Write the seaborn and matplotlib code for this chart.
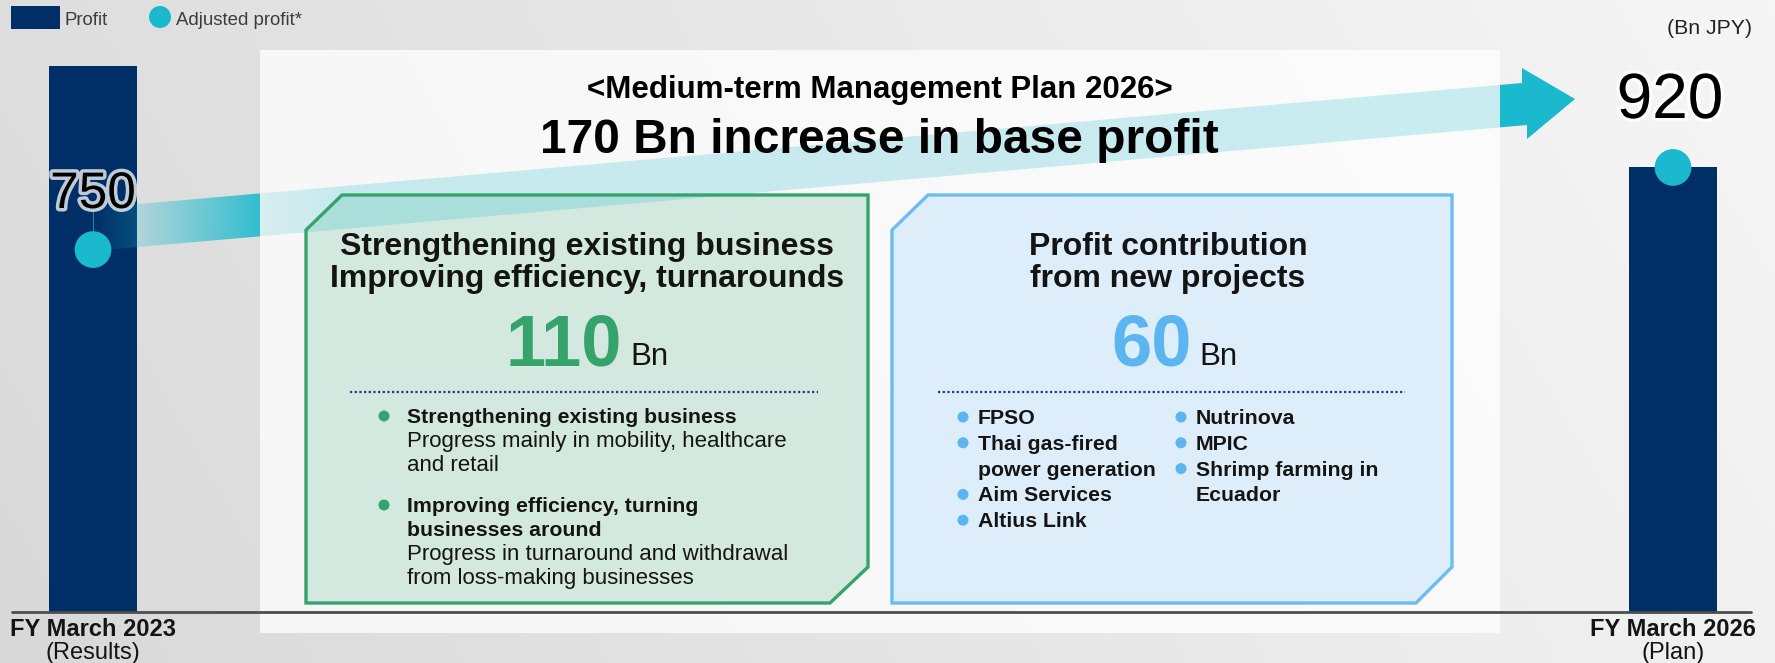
import numpy as np
import pandas as pd
import matplotlib
matplotlib.use("Agg")
import matplotlib.pyplot as plt
import matplotlib.transforms as mtransforms
import matplotlib.patheffects as pe
from matplotlib.patches import Polygon, Rectangle, Circle
import seaborn as sns

# ---------------- data ----------------
periods = ["FY March 2023", "FY March 2026"]
period_notes = ["(Results)", "(Plan)"]
profit = [1131, 920]            # Bn JPY (bars)
adjusted_profit = [750, 920]    # Bn JPY (circles)
value_labels = ["750", "920"]
unit_label = "(Bn JPY)"
legend_labels = ["Profit", "Adjusted profit*"]
plan_title = "<Medium-term Management Plan 2026>"
plan_headline = "170 Bn increase in base profit"
green_title = ["Strengthening existing business", "Improving efficiency, turnarounds"]
blue_title = ["Profit contribution", "from new projects"]
box_values = ["110", "60"]
box_unit = "Bn"
green_items = [
    (["Strengthening existing business"],
     ["Progress mainly in mobility, healthcare", "and retail"]),
    (["Improving efficiency, turning", "businesses around"],
     ["Progress in turnaround and withdrawal", "from loss-making businesses"]),
]
blue_left = [["FPSO"], ["Thai gas-fired", "power generation"], ["Aim Services"], ["Altius Link"]]
blue_right = [["Nutrinova"], ["MPIC"], ["Shrimp farming in", "Ecuador"]]

# ---------------- style ----------------
NAVY = "#002f67"
CYAN = "#1ab9cd"
GREEN = "#35a46c"
GREEN_FILL = "#d3e9df"
BLUE = "#6cbcf2"
BLUE_NUM = "#5bb5f1"
BLUE_FILL = "#ddeefa"
TXT = "#141414"

sns.set_style("white")
plt.rcParams["font.family"] = ["Liberation Sans", "DejaVu Sans"]

W, H = 1775, 663
fig = plt.figure(figsize=(W / 100, H / 100), dpi=100)

# background gradient
bg = fig.add_axes([0, 0, 1, 1])
bg.set_zorder(-1)
xs = np.linspace(0, 1, 256)
ys = np.linspace(0, 1, 64)[:, None]
g = 0.85 + 0.095 * xs[None, :] + 0.02 * (1 - ys)
g = np.clip(g, 0, 1)
bg.imshow(np.dstack([g, g, g]), extent=[0, 1, 0, 1], aspect="auto", interpolation="bicubic")
bg.axis("off")

ax = fig.add_axes([0, 0, 1, 1])
ax.set_facecolor("none")

# pixel -> data mapping (category 0 at x=93px, 1 at x=1673px; value 0 at y=612px)
X0, XS = 93.0, 1580.0
Y0, YS = 612.0, 0.4832
def dx(px):
    return (px - X0) / XS
def dy(py):
    return (Y0 - py) / YS

T = mtransforms.Affine2D().scale(1 / W, -1 / H).translate(0, 1) + fig.transFigure
TB = mtransforms.blended_transform_factory(ax.transData, T)

df = pd.DataFrame({"period": periods, "profit": profit, "adjusted": adjusted_profit,
                   "pos": np.arange(len(periods))})

# bars
sns.barplot(data=df, x="period", y="profit", color=NAVY, saturation=1,
            width=88 / XS, linewidth=0, ax=ax, zorder=1)

# white panel
ax.add_patch(Rectangle((260, 50), 1240, 583, transform=T, facecolor="white",
                       alpha=0.76, linewidth=0, zorder=2))

# box fills
green_pts = [(306, 230), (342, 195), (868, 195), (868, 567), (830, 603), (306, 603)]
blue_pts = [(892, 230), (928, 195), (1452, 195), (1452, 567), (1416, 603), (892, 603)]
ax.add_patch(Polygon(green_pts, closed=True, transform=T, facecolor=GREEN_FILL,
                     edgecolor="none", zorder=3))
ax.add_patch(Polygon(blue_pts, closed=True, transform=T, facecolor=BLUE_FILL,
                     edgecolor="none", zorder=3))

# arrow (gradient, clipped)
arrow_pts = [(93, 208), (1522, 83), (1522, 68), (1575, 99), (1527, 139), (1527, 125), (93, 251)]
arrow_patch = Polygon(arrow_pts, closed=True, transform=T, facecolor="none", edgecolor="none")
xx = np.arange(93, 1581, 1.0)
alpha = np.clip((xx - 93) / (272 - 93), 0, 1) * 0.95
inpanel = (xx >= 260) & (xx < 1500)
alpha[inpanel] = 0.14 + 0.08 * np.clip((xx[inpanel] - 260) / 80, 0, 1)
alpha[xx >= 1500] = 1.0
rgba = np.zeros((2, len(xx), 4))
c = matplotlib.colors.to_rgb(CYAN)
rgba[..., 0], rgba[..., 1], rgba[..., 2] = c
rgba[..., 3] = alpha[None, :]
im = ax.imshow(rgba, extent=[dx(93), dx(1581), dy(260), dy(55)], aspect="auto",
               interpolation="nearest", zorder=3.5)
im.set_clip_path(arrow_patch)

# leader line from label to circle
ax.plot([93, 93], [210, 233], transform=T, color=CYAN, linewidth=0.6, alpha=0.8, zorder=4)

# box outlines
ax.add_patch(Polygon(green_pts, closed=True, transform=T, facecolor="none",
                     edgecolor=GREEN, linewidth=2.4, zorder=4, joinstyle="miter"))
ax.add_patch(Polygon(blue_pts, closed=True, transform=T, facecolor="none",
                     edgecolor=BLUE, linewidth=2.4, zorder=4, joinstyle="miter"))

# baseline
ax.axhline(0, xmin=12 / W, xmax=1751 / W, color="#4d4d4d", linewidth=2.0, zorder=4.5)

# adjusted profit circles
sns.scatterplot(data=df, x="pos", y="adjusted", s=700, color=CYAN, linewidth=0,
                edgecolor="none", legend=False, ax=ax, zorder=5)

glow = [pe.withStroke(linewidth=5, foreground="white", alpha=0.75)]
ax.text(0, 208, value_labels[0], transform=TB, ha="center", va="baseline",
        fontsize=37, color="black", zorder=7, path_effects=glow)
ax.text(1 - 3 / XS, 118, value_labels[1], transform=TB, ha="center", va="baseline",
        fontsize=46, color="black", zorder=7, path_effects=glow)

# category labels
for i, (p, n) in enumerate(zip(periods, period_notes)):
    ax.text(i, 636, p, transform=TB, ha="center", va="baseline", fontsize=17,
            fontweight="bold", color=TXT, zorder=7)
    ax.text(i, 659, n, transform=TB, ha="center", va="baseline", fontsize=17,
            color=TXT, zorder=7)

# legend
ax.add_patch(Rectangle((11, 6), 49, 23, transform=T, facecolor=NAVY, linewidth=0, zorder=7))
ax.text(65, 25, legend_labels[0], transform=T, ha="left", va="baseline", fontsize=13.4,
        color="#3c3c3c", zorder=7)
ax.add_patch(Circle((160, 17), 11, transform=T, facecolor=CYAN, linewidth=0, zorder=7))
ax.text(176, 25, legend_labels[1], transform=T, ha="left", va="baseline", fontsize=13.4,
        color="#3c3c3c", zorder=7)
ax.text(1752, 34, unit_label, transform=T, ha="right", va="baseline", fontsize=15.3,
        color="#222222", zorder=7)

# titles
ax.text(880, 98, plan_title, transform=T, ha="center", va="baseline", fontsize=22.5,
        fontweight="bold", color="black", zorder=7)
ax.text(879, 153, plan_headline, transform=T, ha="center", va="baseline", fontsize=34.5,
        fontweight="bold", color="black", zorder=7)

# box headings
for j, line in enumerate(green_title):
    ax.text(587, 255 + 32 * j, line, transform=T, ha="center", va="baseline",
            fontsize=23, fontweight="bold", color=TXT, zorder=7)
for j, line in enumerate(blue_title):
    ax.text(1168, 255 + 32 * j, line, transform=T, ha="center", va="baseline",
            fontsize=23, fontweight="bold", color=TXT, zorder=7)

# big numbers
ax.text(622, 365, box_values[0], transform=T, ha="right", va="baseline", fontsize=52,
        fontweight="bold", color="#36a26c", zorder=7)
ax.text(630, 365, box_unit, transform=T, ha="left", va="baseline", fontsize=22.5,
        color=TXT, zorder=7)
ax.text(1192, 365, box_values[1], transform=T, ha="right", va="baseline", fontsize=52,
        fontweight="bold", color=BLUE_NUM, zorder=7)
ax.text(1199, 365, box_unit, transform=T, ha="left", va="baseline", fontsize=22.5,
        color=TXT, zorder=7)

# dotted separators
for x1, x2 in [(350, 818), (938, 1405)]:
    ax.plot([x1, x2], [392, 392], transform=T, color="#1f3f80", linewidth=1.6,
            linestyle=(0, (1, 1.1)), zorder=7)

# green bullets
y = 423
for bold_lines, reg_lines in green_items:
    ax.add_patch(Circle((384, y - 7), 5.5, transform=T, facecolor="#36a26c", linewidth=0, zorder=7))
    for ln in bold_lines:
        ax.text(407, y, ln, transform=T, ha="left", va="baseline", fontsize=15.3,
                fontweight="bold", color=TXT, zorder=7)
        y += 24
    for ln in reg_lines:
        ax.text(407, y, ln, transform=T, ha="left", va="baseline", fontsize=16,
                color=TXT, zorder=7)
        y += 24
    y += 17

# blue bullets
for items, xd, xt in [(blue_left, 963, 978), (blue_right, 1181, 1196)]:
    y = 424
    for item in items:
        ax.add_patch(Circle((xd, y - 7), 5.5, transform=T, facecolor=BLUE_NUM, linewidth=0, zorder=7))
        for ln in item:
            ax.text(xt, y, ln, transform=T, ha="left", va="baseline", fontsize=15.3,
                    fontweight="bold", color=TXT, zorder=7)
            y += 25.8

ax.set_xlim(dx(0), dx(W))
ax.set_ylim(dy(H), dy(0))
ax.axis("off")

fig.savefig("out.png", dpi=100)
